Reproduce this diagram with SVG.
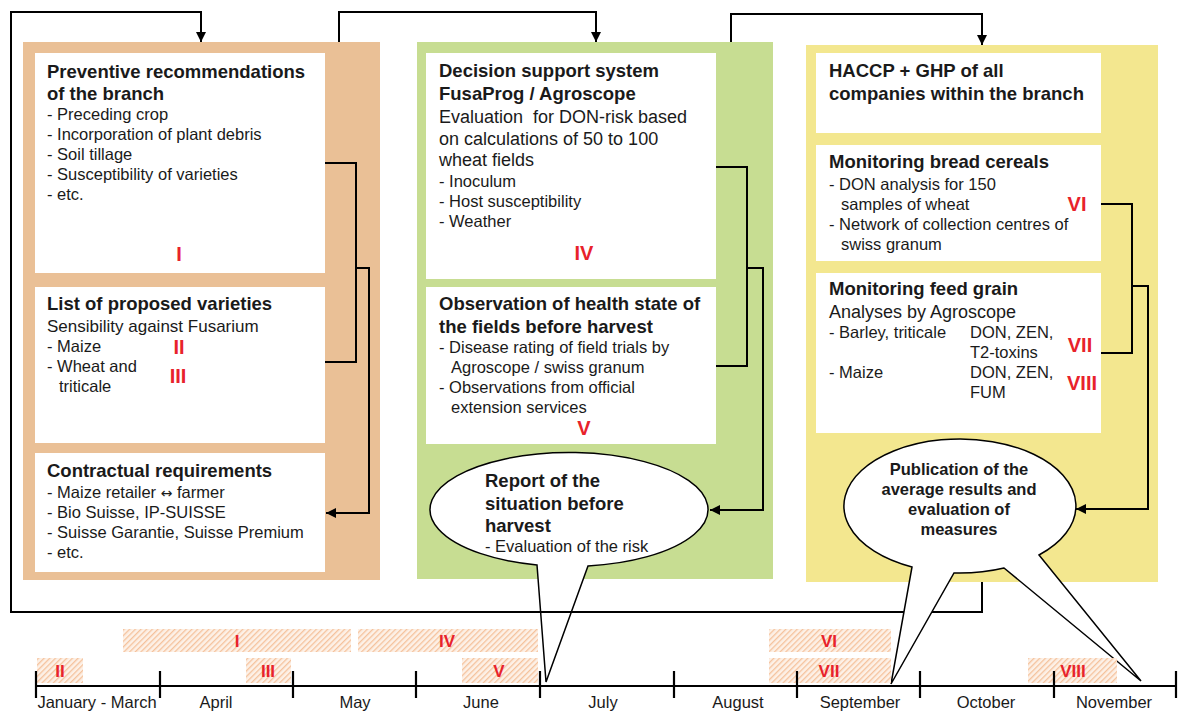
<svg xmlns="http://www.w3.org/2000/svg" width="1187" height="711" viewBox="0 0 1187 711">
<defs>
<style>
text{font-family:"Liberation Sans",Arial,sans-serif;fill:#1a1a1a}
.t{font-size:18.5px;font-weight:bold}
.b{font-size:16.5px}
.m{font-size:18px}
.r{font-size:20px;font-weight:bold;fill:#E8222B}
.rs{font-size:17px;font-weight:bold;fill:#E8222B}
.box{fill:#fff}
.ln{fill:none;stroke:#000;stroke-width:2}
.ax{fill:none;stroke:#000;stroke-width:2.2}
.call{fill:#fff;stroke:#000;stroke-width:1.5}
.mo{font-size:16.5px;text-anchor:middle}
.pt{font-size:16.5px;font-weight:bold;text-anchor:middle}
.arw{font-family:"DejaVu Sans",sans-serif;font-size:14px}
</style>
<marker id="ah" viewBox="0 0 10 10" refX="10" refY="5" markerWidth="10" markerHeight="10" markerUnits="userSpaceOnUse" orient="auto">
<path d="M0,0 L10,5 L0,10 Z" fill="#000"/>
</marker>
<pattern id="hatch" patternUnits="userSpaceOnUse" width="4" height="4" patternTransform="rotate(45)">
<rect width="4" height="4" fill="#FDF1E7"/>
<rect width="1.3" height="4" fill="#F5C29C"/>
</pattern>
</defs>
<rect width="1187" height="711" fill="#fff"/>

<g id="panel-left"><rect x="23" y="42" width="357" height="538" fill="#EAC096"/></g>
<g id="panel-middle"><rect x="417" y="42" width="356" height="537" fill="#C7DD92"/></g>
<g id="panel-right"><rect x="806" y="45" width="352" height="537" fill="#F3E78F"/></g>

<g id="box-preventive">
<rect class="box" x="35" y="53" width="290" height="220"/>
<text class="t" x="47" y="78">Preventive recommendations</text>
<text class="t" x="47" y="100">of the branch</text>
<text class="b" x="47" y="120">-  Preceding crop</text>
<text class="b" x="47" y="140">-  Incorporation of plant debris</text>
<text class="b" x="47" y="160">-  Soil tillage</text>
<text class="b" x="47" y="180">-  Susceptibility of varieties</text>
<text class="b" x="47" y="200">-  etc.</text>
<text class="r" x="179" y="261" text-anchor="middle">I</text>
</g>

<g id="box-varieties">
<rect class="box" x="35" y="287" width="290" height="156"/>
<text class="t" x="47" y="310">List of proposed varieties</text>
<text class="b" x="47" y="332" style="font-size:17px">Sensibility against Fusarium</text>
<text class="b" x="47" y="352">-  Maize</text>
<text class="b" x="47" y="372">-  Wheat and</text>
<text class="b" x="59" y="392">triticale</text>
<text class="r" x="179" y="354" text-anchor="middle">II</text>
<text class="r" x="178" y="383" text-anchor="middle">III</text>
</g>

<g id="box-contract">
<rect class="box" x="35" y="453" width="290" height="119"/>
<text class="t" x="47" y="477">Contractual requirements</text>
<text class="b" x="47" y="498">-  Maize retailer <tspan class="arw">↔</tspan> farmer</text>
<text class="b" x="47" y="518">-  Bio Suisse, IP-SUISSE</text>
<text class="b" x="47" y="538">-  Suisse Garantie, Suisse Premium</text>
<text class="b" x="47" y="558">-  etc.</text>
</g>

<g id="box-dss">
<rect class="box" x="426" y="53" width="290" height="226"/>
<text class="t" x="439" y="77">Decision support system</text>
<text class="t" x="439" y="100">FusaProg / Agroscope</text>
<text class="m" x="439" y="123" xml:space="preserve">Evaluation  for DON-risk based</text>
<text class="m" x="439" y="145">on calculations of 50 to 100</text>
<text class="m" x="439" y="166">wheat fields</text>
<text class="b" x="439" y="187">-  Inoculum</text>
<text class="b" x="439" y="207">-  Host susceptibility</text>
<text class="b" x="439" y="227">-  Weather</text>
<text class="r" x="584" y="260" text-anchor="middle">IV</text>
</g>

<g id="box-observation">
<rect class="box" x="426" y="287" width="290" height="157"/>
<text class="t" x="439" y="310">Observation of health state of</text>
<text class="t" x="439" y="333">the fields before harvest</text>
<text class="b" x="439" y="353">-  Disease rating of field trials by</text>
<text class="b" x="451" y="373">Agroscope / swiss granum</text>
<text class="b" x="439" y="393">-  Observations from official</text>
<text class="b" x="451" y="413">extension services</text>
<text class="r" x="584" y="435" text-anchor="middle">V</text>
</g>

<g id="box-haccp">
<rect class="box" x="816" y="53" width="285" height="80"/>
<text class="t" x="829" y="77">HACCP + GHP of all</text>
<text class="t" x="829" y="100">companies within the branch</text>
</g>

<g id="box-bread">
<rect class="box" x="816" y="145" width="285" height="116"/>
<text class="t" x="829" y="168">Monitoring bread cereals</text>
<text class="b" x="829" y="190">-  DON analysis for 150</text>
<text class="b" x="841" y="210">samples of wheat</text>
<text class="b" x="829" y="230">-  Network of collection centres of</text>
<text class="b" x="841" y="250">swiss granum</text>
<text class="r" x="1077" y="211" text-anchor="middle">VI</text>
</g>

<g id="box-feed">
<rect class="box" x="816" y="273" width="285" height="160"/>
<text class="t" x="829" y="295">Monitoring feed grain</text>
<text class="m" x="829" y="318">Analyses by Agroscope</text>
<text class="b" x="829" y="338">-  Barley, triticale</text>
<text class="b" x="970" y="338">DON, ZEN,</text>
<text class="b" x="970" y="358">T2-toxins</text>
<text class="b" x="829" y="378">-  Maize</text>
<text class="b" x="970" y="378">DON, ZEN,</text>
<text class="b" x="970" y="398">FUM</text>
<text class="r" x="1080" y="352" text-anchor="middle">VII</text>
<text class="r" x="1082" y="390" text-anchor="middle">VIII</text>
</g>

<g id="callout-report">
<path class="call" d="M537,565 L546,682 L588,566 A139 57 0 1 0 537,565 Z"/>
<text class="t" x="485" y="487">Report of the</text>
<text class="t" x="485" y="510">situation before</text>
<text class="t" x="485" y="532">harvest</text>
<text class="b" x="485" y="552">-  Evaluation of the risk</text>
</g>

<g id="connectors">
<path class="ln" d="M982,582 V612 H11 V12 H201 V42" marker-end="url(#ah)"/>
<path class="ln" d="M339,42 V12 H596 V42" marker-end="url(#ah)"/>
<path class="ln" d="M731,42 V14 H982 V45" marker-end="url(#ah)"/>
<path class="ln" d="M325,163 H356 V362 H325"/>
<path class="ln" d="M356,268 H369 V513 H326" marker-end="url(#ah)"/>
<path class="ln" d="M716,167 H747 V366 H716"/>
<path class="ln" d="M747,268 H763 V510 H710" marker-end="url(#ah)"/>
<path class="ln" d="M1101,204 H1132 V353 H1101"/>
<path class="ln" d="M1132,286 H1148 V509 H1076" marker-end="url(#ah)"/>
</g>

<g id="callout-publication">
<path class="call" d="M912,567 L891,684 L954,573 A116 67 0 0 0 1004,568 L1141,681 L1039,555 A116 67 0 1 0 912,567 Z"/>
<text class="pt" x="959" y="475">Publication of the</text>
<text class="pt" x="959" y="495">average results and</text>
<text class="pt" x="959" y="515">evaluation of</text>
<text class="pt" x="959" y="535">measures</text>
</g>

<g id="timeline">
<rect x="123" y="629" width="228" height="23" fill="url(#hatch)"/>
<rect x="358" y="629" width="180" height="23" fill="url(#hatch)"/>
<rect x="769" y="629" width="122" height="23" fill="url(#hatch)"/>
<rect x="37" y="658" width="46" height="25" fill="url(#hatch)"/>
<rect x="246" y="658" width="45" height="25" fill="url(#hatch)"/>
<rect x="462" y="658" width="76" height="25" fill="url(#hatch)"/>
<rect x="769" y="658" width="122" height="25" fill="url(#hatch)"/>
<rect x="1028" y="658" width="89" height="25" fill="url(#hatch)"/>
<text class="rs" x="237" y="647" text-anchor="middle">I</text>
<text class="rs" x="447" y="647" text-anchor="middle">IV</text>
<text class="rs" x="829" y="647" text-anchor="middle">VI</text>
<text class="rs" x="60" y="677" text-anchor="middle">II</text>
<text class="rs" x="268" y="677" text-anchor="middle">III</text>
<text class="rs" x="499" y="677" text-anchor="middle">V</text>
<text class="rs" x="829" y="677" text-anchor="middle">VII</text>
<text class="rs" x="1073" y="677" text-anchor="middle">VIII</text>
<path class="ax" d="M36,686 H1176"/>
<path class="ax" d="M36,671 V698 M160,671 V698 M293,671 V698 M416,671 V698 M540,671 V698 M674,671 V698 M797,671 V698 M920,671 V698 M1054,671 V698 M1176,671 V698"/>
<text class="mo" x="97" y="708">January - March</text>
<text class="mo" x="216" y="708">April</text>
<text class="mo" x="355" y="708">May</text>
<text class="mo" x="481" y="708">June</text>
<text class="mo" x="603" y="708">July</text>
<text class="mo" x="738" y="708">August</text>
<text class="mo" x="860" y="708">September</text>
<text class="mo" x="986" y="708">October</text>
<text class="mo" x="1114" y="708">November</text>
</g>
</svg>
